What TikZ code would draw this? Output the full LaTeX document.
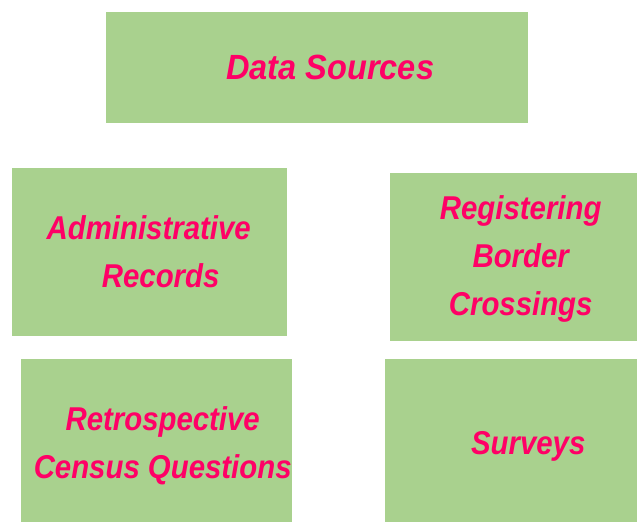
\documentclass[tikz,border=0pt]{standalone}
\usepackage{fontspec}
\setmainfont{Liberation Sans}
\newfontfamily\srcfont[FakeStretch=0.89]{Liberation Sans}
\newfontfamily\headfont[FakeStretch=0.93]{Liberation Sans}
\usetikzlibrary{positioning}
\definecolor{boxgreen}{HTML}{A9D18E}
\definecolor{textpink}{HTML}{FF0066}
\tikzset{
	srcbox/.style={
		rectangle,
		fill=boxgreen,
		anchor=north west,
		inner sep=0pt},
	srctext/.style={
		text=textpink,
		align=center,
		inner sep=0pt,
		font=\srcfont\fontsize{33}{48}\selectfont\bfseries\itshape},
}

\begin{document}
\begin{tikzpicture}[x=1pt,y=1pt]
		\useasboundingbox (0,0) rectangle (637,-522);
		% boxes
		\node[srcbox, minimum width=422pt, minimum height=111pt] (ds) at (106,-12) {};
		\node[srcbox, minimum width=275pt, minimum height=168pt] (ar) at (12,-168) {};
		\node[srcbox, minimum width=247pt, minimum height=168pt] (rb) at (390,-173) {};
		\node[srcbox, minimum width=271pt, minimum height=163pt] (rc) at (21,-359) {};
		\node[srcbox, minimum width=252pt, minimum height=163pt] (sv) at (385,-359) {};
		% texts
		\node[srctext, font=\headfont\fontsize{35}{48}\selectfont\bfseries\itshape] (dstext) at ([xshift=13pt]ds.center) {Data Sources};
		\node[srctext] (artext) at ([xshift=-1pt]ar.center) {Administrative\\\hspace*{24pt}Records};
		\node[srctext] (rbtext) at ([xshift=7pt,yshift=-2pt]rb.center) {Registering\\Border\\Crossings};
		\node[srctext] (rctext) at ([xshift=6pt,yshift=-5pt]rc.center) {Retrospective\\Census Questions};
		\node[srctext] (svtext) at ([xshift=17pt,yshift=-6pt]sv.center) {Surveys};
\end{tikzpicture}
\end{document}
